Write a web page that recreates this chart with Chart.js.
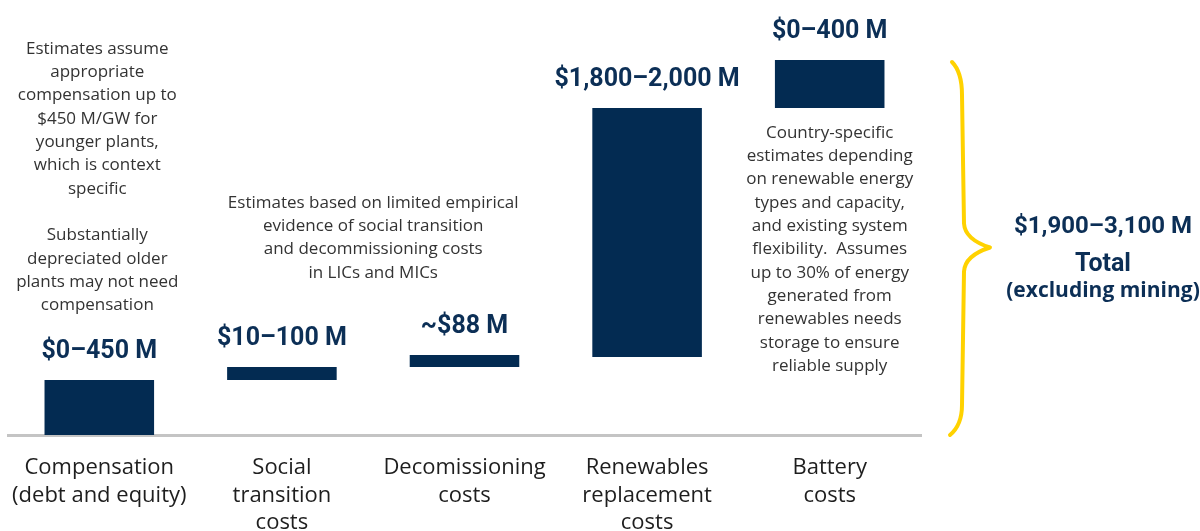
<!DOCTYPE html>
<html>
<head>
<meta charset="utf-8">
<script src="https://cdn.jsdelivr.net/npm/chart.js@4.4.0/dist/chart.umd.min.js"></script>
<style>
  html, body { margin: 0; padding: 0; background: #fff; }
  #wrap { width: 1200px; height: 531px; position: relative; }
</style>
</head>
<body>
<div id="wrap"><canvas id="chart"></canvas></div>
<script>
// Schematic cost stack: bars float on top of each other (visual units, not to scale)
const categories = [
  ['Compensation', '(debt and equity)'],
  ['Social', 'transition', 'costs'],
  ['Decomissioning', 'costs'],
  ['Renewables', 'replacement', 'costs'],
  ['Battery', 'costs']
];
const barLow = [0, 55, 68, 78, 327];
const barHigh = [55, 68, 80, 327, 375];
const valueLabels = ['$0–450 M', '$10–100 M', '~$88 M', '$1,800–2,000 M', '$0–400 M'];

const noteCompensation = [
  'Estimates assume', 'appropriate', 'compensation up to', '$450 M/GW for',
  'younger plants,', 'which is context', 'specific', '',
  'Substantially', 'depreciated older', 'plants may not need', 'compensation'
];
const noteSocial = [
  'Estimates based on limited empirical', 'evidence of social transition',
  'and decommissioning costs', 'in LICs and MICs'
];
const noteBattery = [
  'Country-specific', 'estimates depending', 'on renewable energy',
  'types and capacity,', 'and existing system', 'flexibility.  Assumes',
  'up to 30% of energy', 'generated from', 'renewables needs',
  'storage to ensure', 'reliable supply'
];
const totalLines = ['$1,900–3,100 M', 'Total', '(excluding mining)'];

const NAVY = '#032b52';
const LABEL = '#0c2f56';
const GREY_TEXT = '#333333';

const annotations = {
  id: 'annotations',
  afterDatasetsDraw(chart) {
    const { ctx, chartArea, scales } = chart;
    const x = scales.x, y = scales.y;
    ctx.save();
    ctx.textAlign = 'center';
    ctx.textBaseline = 'middle';

    // value labels above each bar
    ctx.fillStyle = LABEL;
    ctx.font = 'bold 25px Roboto';
    chart.getDatasetMeta(0).data.forEach((bar, i) => {
      ctx.fillText(valueLabels[i], bar.x, bar.y - 28);
    });

    // grey explanatory notes
    ctx.fillStyle = GREY_TEXT;
    ctx.font = '17px "Open Sans"';
    const drawNote = (lines, cx, topVal) => {
      const y0 = y.getPixelForValue(topVal);
      lines.forEach((t, k) => ctx.fillText(t, cx, y0 + k * 23.3));
    };
    drawNote(noteCompensation, x.getPixelForValue(0) - 2, 386);
    drawNote(noteSocial, (x.getPixelForValue(1) + x.getPixelForValue(2)) / 2, 232);
    drawNote(noteBattery, x.getPixelForValue(4), 302);

    // yellow brace spanning the whole stack
    const top = y.getPixelForValue(Math.max(...barHigh));
    const bot = y.getPixelForValue(0);
    const mid = (top + bot) / 2;
    const bx = chartArea.right + 31;
    ctx.strokeStyle = '#ffd200';
    ctx.lineWidth = 4;
    ctx.lineCap = 'round';
    ctx.lineJoin = 'round';
    ctx.beginPath();
    ctx.moveTo(bx, top + 2);
    ctx.quadraticCurveTo(bx + 10, top + 12, bx + 10, top + 35);
    ctx.lineTo(bx + 12, mid - 24);
    ctx.quadraticCurveTo(bx + 13, mid - 8, bx + 38, mid);
    ctx.quadraticCurveTo(bx + 13, mid + 8, bx + 12, mid + 24);
    ctx.lineTo(bx + 10, bot - 30);
    ctx.quadraticCurveTo(bx + 10, bot - 10, bx - 2, bot);
    ctx.stroke();

    // total text
    const tx = chartArea.right + 182;
    ctx.fillStyle = LABEL;
    ctx.font = 'bold 24px Roboto';
    ctx.fillText(totalLines[0], tx, mid - 21);
    ctx.font = 'bold 25px Roboto';
    ctx.fillText(totalLines[1], tx, mid + 17);
    ctx.font = 'bold 21px "Open Sans"';
    ctx.fillText(totalLines[2], tx, mid + 44);
    ctx.restore();
  }
};

new Chart(document.getElementById('chart'), {
  type: 'bar',
  data: {
    labels: categories,
    datasets: [{
      data: barLow.map((lo, i) => [lo, barHigh[i]]),
      backgroundColor: NAVY,
      borderWidth: 0,
      barPercentage: 0.6,
      categoryPercentage: 1
    }]
  },
  options: {
    responsive: true,
    maintainAspectRatio: false,
    animation: false,
    layout: { padding: { top: 10, left: 8, right: 279, bottom: 0 } },
    plugins: { legend: { display: false }, tooltip: { enabled: false } },
    scales: {
      x: {
        grid: { display: false, drawTicks: false },
        border: { display: true, color: '#c4c4c4', width: 3 },
        ticks: {
          color: '#1e1e1e',
          font: { family: 'Open Sans', size: 22, weight: 500, lineHeight: 1.25 },
          padding: 19,
          maxRotation: 0,
          autoSkip: false
        },
        afterFit(scale) {
          scale.height = 96;
          // labels may overhang the ends; keep the plot width fixed
          scale.paddingLeft = 0;
          scale.paddingRight = 0;
        }
      },
      y: {
        display: false,
        min: 0,
        max: 425
      }
    }
  },
  plugins: [annotations]
});
</script>
</body>
</html>
